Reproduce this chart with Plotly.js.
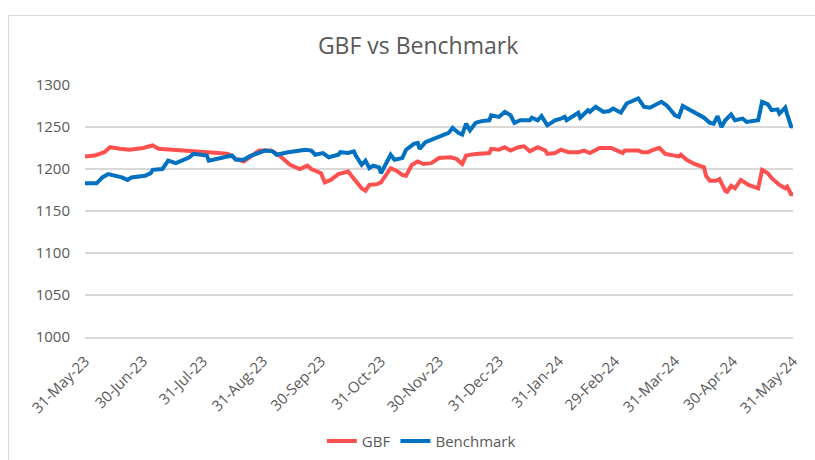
<!DOCTYPE html>
<html>
<head>
<meta charset="utf-8">
<script src="https://cdn.plot.ly/plotly-3.0.1.min.js"></script>
<style>
html,body{margin:0;padding:0;background:#fff;}
#wrap{position:relative;width:815px;height:460px;overflow:hidden;}
#frame{position:absolute;left:8px;top:15px;width:820px;height:460px;border:1.5px solid #d9d9d9;box-sizing:border-box;pointer-events:none;}
#chart{position:absolute;left:0;top:0;width:815px;height:460px;}
</style>
</head>
<body>
<div id="wrap"><div id="chart"></div><div id="frame"></div></div>
<script>
const gbfDates = ["2023-05-31","2023-06-05","2023-06-10","2023-06-13","2023-06-18","2023-06-23","2023-06-30","2023-07-05","2023-07-08","2023-07-16","2023-07-24","2023-07-31","2023-08-08","2023-08-13","2023-08-17","2023-08-21","2023-08-25","2023-08-29","2023-09-04","2023-09-08","2023-09-14","2023-09-19","2023-09-23","2023-09-25","2023-09-30","2023-10-02","2023-10-05","2023-10-09","2023-10-14","2023-10-18","2023-10-21","2023-10-23","2023-10-25","2023-10-29","2023-10-31","2023-11-02","2023-11-05","2023-11-08","2023-11-11","2023-11-13","2023-11-16","2023-11-19","2023-11-22","2023-11-26","2023-11-30","2023-12-06","2023-12-09","2023-12-12","2023-12-14","2023-12-19","2023-12-26","2023-12-27","2023-12-31","2024-01-03","2024-01-06","2024-01-10","2024-01-13","2024-01-16","2024-01-20","2024-01-24","2024-01-25","2024-01-29","2024-02-01","2024-02-05","2024-02-10","2024-02-13","2024-02-16","2024-02-21","2024-02-27","2024-02-29","2024-03-04","2024-03-05","2024-03-12","2024-03-14","2024-03-17","2024-03-20","2024-03-23","2024-03-26","2024-03-30","2024-04-02","2024-04-03","2024-04-06","2024-04-10","2024-04-15","2024-04-16","2024-04-18","2024-04-21","2024-04-23","2024-04-26","2024-04-27","2024-04-29","2024-05-01","2024-05-04","2024-05-08","2024-05-13","2024-05-15","2024-05-18","2024-05-20","2024-05-24","2024-05-27","2024-05-28","2024-05-30","2024-05-31"];
const gbfValues = [1215,1216,1220,1226,1224,1223,1225,1228,1224,1223,1222,1220,1219,1218,1212,1209,1215,1222,1222,1217,1205,1200,1204,1200,1195,1184,1187,1194,1197,1186,1177,1174,1181,1182,1184,1191,1201,1198,1193,1192,1205,1209,1206,1207,1213,1214,1212,1206,1216,1218,1219,1224,1223,1226,1222,1226,1227,1221,1226,1222,1218,1219,1223,1220,1220,1222,1219,1225,1225,1223,1219,1222,1222,1220,1220,1223,1225,1218,1216,1215,1217,1211,1206,1202,1192,1186,1186,1188,1174,1173,1180,1177,1187,1181,1177,1199,1195,1189,1181,1177,1179,1170,1170];

const benchDates = ["2023-05-31","2023-06-06","2023-06-09","2023-06-12","2023-06-19","2023-06-22","2023-06-24","2023-07-01","2023-07-04","2023-07-05","2023-07-10","2023-07-13","2023-07-17","2023-07-24","2023-07-26","2023-08-02","2023-08-03","2023-08-08","2023-08-15","2023-08-17","2023-08-21","2023-08-24","2023-08-28","2023-09-01","2023-09-05","2023-09-07","2023-09-13","2023-09-19","2023-09-22","2023-09-25","2023-09-27","2023-10-01","2023-10-04","2023-10-09","2023-10-10","2023-10-14","2023-10-17","2023-10-18","2023-10-21","2023-10-23","2023-10-25","2023-10-27","2023-10-30","2023-10-31","2023-11-02","2023-11-05","2023-11-07","2023-11-11","2023-11-13","2023-11-17","2023-11-19","2023-11-20","2023-11-23","2023-11-28","2023-12-01","2023-12-05","2023-12-07","2023-12-10","2023-12-12","2023-12-14","2023-12-16","2023-12-19","2023-12-22","2023-12-26","2023-12-27","2023-12-31","2024-01-03","2024-01-06","2024-01-08","2024-01-11","2024-01-16","2024-01-17","2024-01-20","2024-01-22","2024-01-25","2024-01-29","2024-02-01","2024-02-03","2024-02-04","2024-02-10","2024-02-11","2024-02-15","2024-02-16","2024-02-19","2024-02-23","2024-02-26","2024-02-28","2024-03-03","2024-03-06","2024-03-12","2024-03-15","2024-03-18","2024-03-24","2024-03-27","2024-03-31","2024-04-02","2024-04-04","2024-04-08","2024-04-15","2024-04-18","2024-04-20","2024-04-22","2024-04-24","2024-04-26","2024-04-29","2024-05-01","2024-05-05","2024-05-07","2024-05-13","2024-05-15","2024-05-18","2024-05-20","2024-05-23","2024-05-24","2024-05-27","2024-05-28","2024-05-30","2024-05-31"];
const benchValues = [1183,1183,1190,1194,1190,1187,1190,1192,1195,1199,1200,1210,1207,1214,1218,1216,1210,1212,1216,1211,1211,1215,1219,1222,1221,1217,1220,1222,1223,1222,1217,1219,1214,1217,1220,1219,1221,1216,1205,1210,1201,1204,1202,1195,1203,1217,1211,1213,1223,1230,1231,1224,1232,1237,1240,1243,1249,1243,1241,1254,1246,1255,1257,1258,1264,1262,1268,1264,1255,1258,1258,1261,1258,1263,1252,1258,1260,1262,1258,1267,1261,1270,1268,1274,1268,1269,1272,1267,1278,1284,1274,1273,1280,1275,1264,1262,1275,1270,1261,1255,1254,1263,1250,1258,1265,1258,1260,1256,1258,1280,1277,1270,1271,1266,1273,1265,1251,1250];

const tickDates = ["2023-05-31","2023-06-30","2023-07-31","2023-08-31","2023-09-30","2023-10-31","2023-11-30","2023-12-31","2024-01-31","2024-02-29","2024-03-31","2024-04-30","2024-05-31"];
const tickLabels = ["31-May-23","30-Jun-23","31-Jul-23","31-Aug-23","30-Sep-23","31-Oct-23","30-Nov-23","31-Dec-23","31-Jan-24","29-Feb-24","31-Mar-24","30-Apr-24","31-May-24"];
const yTicks = [1000,1050,1100,1150,1200,1250,1300];

const font = "'Open Sans', 'DejaVu Sans', sans-serif";
const traces = [
  {x: gbfDates, y: gbfValues, name: "GBF", type: "scatter", mode: "lines",
   line: {color: "#FF5050", width: 4}},
  {x: benchDates, y: benchValues, name: "Benchmark", type: "scatter", mode: "lines",
   line: {color: "#0070C0", width: 4}}
];
const layout = {
  width: 815, height: 460,
  margin: {l: 85, r: 22, t: 85, b: 123, autoexpand: false},
  paper_bgcolor: "#fff", plot_bgcolor: "#fff",
  font: {family: font, color: "#595959", size: 14},
  title: {text: "GBF vs Benchmark", x: 0.513, xanchor: "center", y: 0.9, yanchor: "middle",
          font: {family: font, size: 23, color: "#595959"}},
  xaxis: {type: "date", range: ["2023-05-31", "2024-05-31"], tickvals: tickDates, ticktext: tickLabels,
          tickangle: -45, showgrid: false, zeroline: false, showline: true, linecolor: "#d9d9d9", linewidth: 1.5,
          ticks: "", ticklabelstandoff: 8, automargin: false, tickfont: {size: 15, color: "#595959"}},
  yaxis: {range: [1000, 1300], tickvals: yTicks, showgrid: true, gridcolor: "#d9d9d9", gridwidth: 1.5,
          zeroline: false, showline: false, ticks: "", ticklabelstandoff: 14, automargin: false,
          tickfont: {size: 15, color: "#595959"}},
  showlegend: true,
  legend: {orientation: "h", xref: "container", x: 0.517, xanchor: "center",
           yref: "container", y: 0.041, yanchor: "middle",
           font: {size: 15, color: "#595959"}, entrywidth: 0},
};
Plotly.newPlot("chart", traces, layout, {staticPlot: true, displayModeBar: false});
</script>
</body>
</html>
